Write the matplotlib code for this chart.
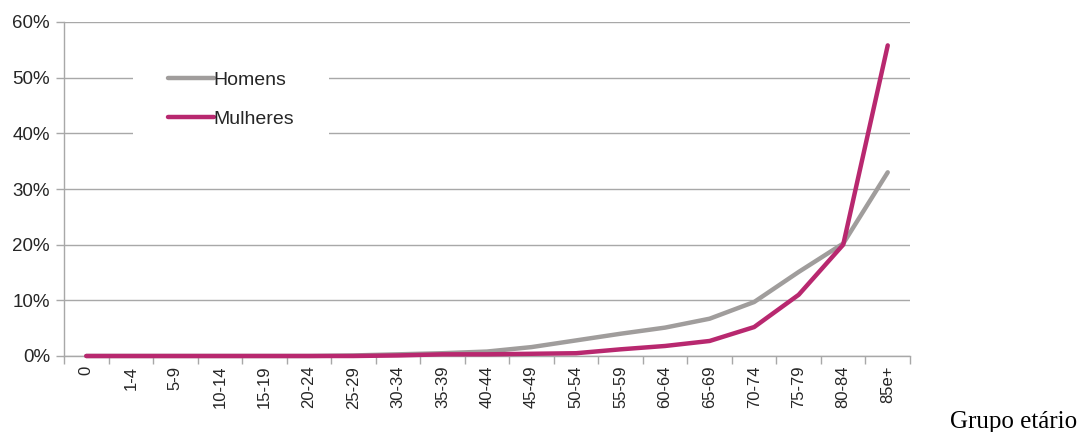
import matplotlib
matplotlib.use("Agg")
import matplotlib.pyplot as plt
from matplotlib.ticker import FixedLocator, FuncFormatter

# Age groups and share (%) per sex
age_groups = ["0", "1-4", "5-9", "10-14", "15-19", "20-24", "25-29", "30-34",
              "35-39", "40-44", "45-49", "50-54", "55-59", "60-64", "65-69",
              "70-74", "75-79", "80-84", "85e+"]
homens = [0.0, 0.0, 0.0, 0.0, 0.0, 0.0, 0.1, 0.3, 0.5, 0.8, 1.6, 2.8,
          4.0, 5.1, 6.7, 9.7, 15.1, 20.2, 33.0]
mulheres = [0.0, 0.0, 0.0, 0.0, 0.0, 0.0, 0.0, 0.1, 0.3, 0.3, 0.4, 0.5,
            1.2, 1.8, 2.7, 5.2, 11.0, 20.0, 55.8]
y_ticks = [0, 10, 20, 30, 40, 50, 60]

grey = "#a09d9c"
magenta = "#b8286f"
grid_c = "#a8a8a8"
text_c = "#262626"

plt.rcParams["font.family"] = ["Liberation Sans", "DejaVu Sans"]

fig = plt.figure(figsize=(10.87, 4.32), dpi=100)
ax = fig.add_axes([64 / 1087, 1 - 356 / 432, (910 - 64) / 1087, (356 - 22) / 432])

x = list(range(len(age_groups)))
ax.plot(x, homens, color=grey, lw=3.2, solid_capstyle="round",
        solid_joinstyle="round", label="Homens", clip_on=False, zorder=3)
ax.plot(x, mulheres, color=magenta, lw=3.2, solid_capstyle="round",
        solid_joinstyle="round", label="Mulheres", clip_on=False, zorder=4)

ax.set_xlim(-0.5, len(age_groups) - 0.5)
ax.set_ylim(0, 60)
ax.set_yticks(y_ticks)
ax.yaxis.set_major_formatter(FuncFormatter(lambda v, p: f"{v:.0f}%"))
ax.yaxis.grid(True, color=grid_c, lw=1.0)
ax.set_axisbelow(True)

ax.tick_params(axis="x", which="major", length=0, pad=7, labelsize=12,
               labelcolor=text_c, labelrotation=90)
ax.tick_params(axis="x", which="minor", length=6, color=grid_c, width=1.0,
               direction="out")
ax.tick_params(axis="y", length=6, color=grid_c, width=1.0, pad=4,
               labelsize=13.5, labelcolor=text_c)
ax.set_xticks(x)
ax.set_xticklabels(age_groups)
ax.xaxis.set_minor_locator(FixedLocator([i + 0.5 for i in range(-1, len(age_groups))]))

for side in ("top", "right"):
    ax.spines[side].set_visible(False)
for side in ("left", "bottom"):
    ax.spines[side].set_color(grid_c)
    ax.spines[side].set_linewidth(1.0)

leg = ax.legend(loc="upper left", bbox_to_anchor=((133 - 64) / 846, 1 - (36 - 22) / 334),
                frameon=True, fancybox=False, borderpad=1.8, handlelength=2.35,
                handletextpad=0.0, labelspacing=1.1, borderaxespad=0,
                prop={"size": 14})
leg.get_frame().set_facecolor("white")
leg.get_frame().set_edgecolor("none")
leg.get_frame().set_alpha(1.0)
for t in leg.get_texts():
    t.set_color(text_c)

fig.text(950 / 1087, 1 - 428 / 432, "Grupo etário", family="Liberation Serif",
         fontsize=18, color="black", ha="left", va="baseline")

fig.savefig("out.png", dpi=100)
